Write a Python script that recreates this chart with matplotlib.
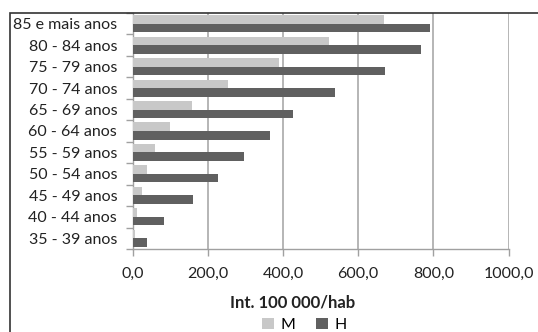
import matplotlib
matplotlib.use("Agg")
import matplotlib.pyplot as plt
import numpy as np
from matplotlib.patches import Rectangle

plt.rcParams["font.family"] = ["Lato", "DejaVu Sans"]

age_groups = ["35 - 39 anos", "40 - 44 anos", "45 - 49 anos", "50 - 54 anos",
              "55 - 59 anos", "60 - 64 anos", "65 - 69 anos", "70 - 74 anos",
              "75 - 79 anos", "80 - 84 anos", "85 e mais anos"]
mulheres = [7, 13, 25, 38, 61, 99, 159, 255, 389, 522, 668]
homens = [38, 84, 160, 226, 296, 365, 427, 538, 672, 767, 790]
x_ticks = [0, 200, 400, 600, 800, 1000]

fs = 11.5
fig = plt.figure(figsize=(5.38, 3.32), dpi=100)
ax = fig.add_axes([132.5 / 538, 1 - 249 / 332, (508.7 - 132.5) / 538, (249 - 13) / 332])

y = np.arange(len(age_groups))
h = 0.4
ax.barh(y + h / 2, mulheres, h, color="#c8c8c8", label="M", zorder=3)
ax.barh(y - h / 2, homens, h, color="#606060", label="H", zorder=3)

ax.set_xlim(0, 1000)
ax.set_ylim(-0.5, len(age_groups) - 0.5)
ax.set_xticks(x_ticks)
ax.set_xticklabels([f"{v:.1f}".replace(".", ",") for v in x_ticks], fontsize=fs, color="#222222")
ax.set_yticks(y)
ax.set_yticklabels(age_groups, fontsize=fs, color="#222222")
ax.set_yticks(np.arange(len(age_groups) + 1) - 0.5, minor=True)
ax.tick_params(axis="y", which="major", length=0, pad=11)
ax.tick_params(axis="y", which="minor", length=5, color="#a0a0a0", width=1)
ax.tick_params(axis="x", length=5, color="#a0a0a0", width=1, pad=8)
ax.grid(True, axis="x", color="#b0b0b0", linewidth=1.3, zorder=0)

for s in ["top", "right"]:
    ax.spines[s].set_visible(False)
for s in ["left", "bottom"]:
    ax.spines[s].set_color("#a0a0a0")
    ax.spines[s].set_linewidth(1)

ax.set_xlabel("Int. 100 000/hab", fontsize=fs + 0.5, fontweight="bold", color="#222222")
ax.xaxis.set_label_coords((292.5 - 132.5) / (508.7 - 132.5), -(303 - 249) / (249 - 13), transform=ax.transAxes)
ax.xaxis.label.set_verticalalignment("center")

leg = fig.legend(loc="center", bbox_to_anchor=(304 / 538, 1 - 325 / 332), ncol=2,
                 frameon=False, fontsize=fs, handlelength=0.75, handleheight=0.75,
                 columnspacing=1.3, handletextpad=0.4, borderpad=0)

# chart border (cropped at right and bottom)
fig.patches.append(Rectangle((10 / 538, -0.1), 1.2, 1 - 13 / 332 + 0.1,
                             transform=fig.transFigure, fill=False,
                             edgecolor="#333333", linewidth=1.2))

fig.savefig("out.png", dpi=100)
